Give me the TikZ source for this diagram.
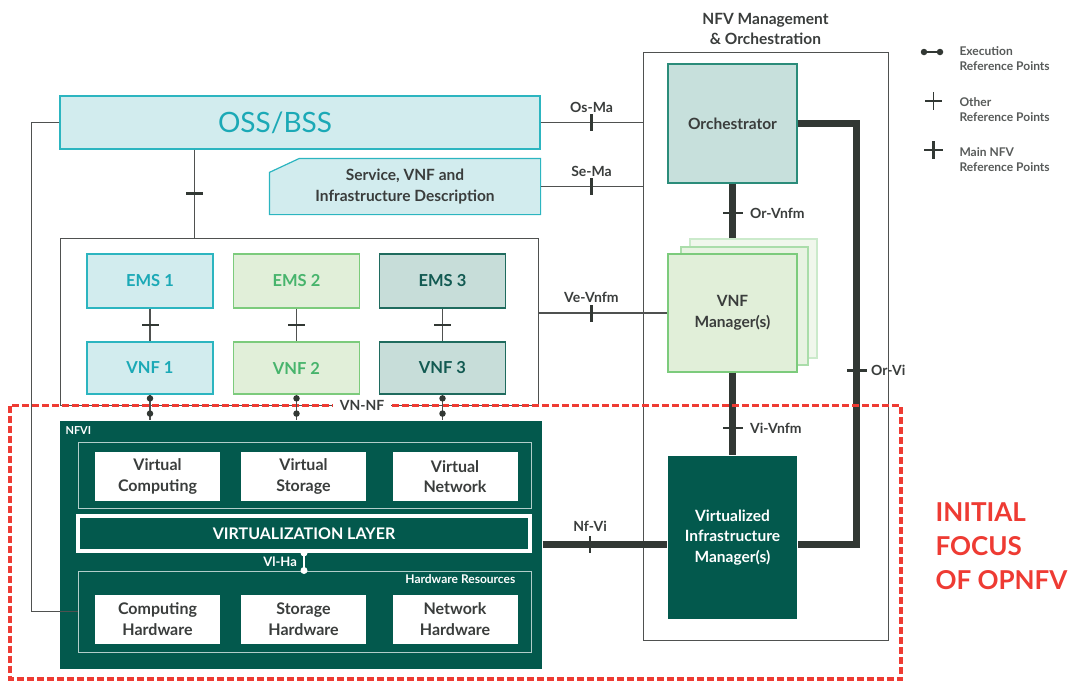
\documentclass[tikz,border=0pt]{standalone}
\usepackage{fontspec}
\setmainfont{Lato}
\usepackage{xcolor}
\usepackage{tikz}
\usetikzlibrary{positioning,calc,backgrounds}
\definecolor{ossfill}{HTML}{D2ECEE}
\definecolor{ossdraw}{HTML}{2CB5C0}
\definecolor{osstext}{HTML}{1BA9B6}
\definecolor{emsfill}{HTML}{E1EFD9}
\definecolor{emsdraw}{HTML}{7CCB7C}
\definecolor{emstext}{HTML}{47B46C}
\definecolor{tealfill}{HTML}{C7DDD9}
\definecolor{tealdraw}{HTML}{1F6B5E}
\definecolor{tealtext}{HTML}{125A52}
\definecolor{orchfill}{HTML}{C7E0DC}
\definecolor{orchdraw}{HTML}{2B8C7A}
\definecolor{nfvigreen}{HTML}{03594D}
\definecolor{darktext}{HTML}{3A3D3C}
\definecolor{linegray}{HTML}{4F5150}
\definecolor{thickgray}{HTML}{323834}
\definecolor{focusred}{HTML}{EE3B33}
\def\labelsize{\fontsize{14}{16}\selectfont}
\def\boxsize{\fontsize{16}{20.5}\selectfont}
\def\mgmtsize{\fontsize{15.5}{20.5}\selectfont}
\def\legendsize{\fontsize{12}{15}\selectfont}

\begin{document}
\begin{tikzpicture}[x=1pt,y=-1pt,font=\bfseries]
    \tikzstyle{box}=[rectangle,inner sep=0pt,align=center,line width=1.2pt]
    \tikzstyle{cyan box}=[box,fill=ossfill,draw=ossdraw,text=osstext]
    \tikzstyle{green box}=[box,fill=emsfill,draw=emsdraw,text=emstext]
    \tikzstyle{teal box}=[box,fill=tealfill,draw=tealdraw,text=tealtext]
    \tikzstyle{white box}=[box,fill=white,text=darktext,font=\boxsize\bfseries,minimum width=125,minimum height=49]
    \tikzstyle{frame}=[box,draw=linegray,line width=1pt]
    \tikzstyle{ref}=[draw=linegray,line width=1.3pt]
    \tikzstyle{main ref}=[draw=thickgray,line width=6.5pt]
    \tikzstyle{tick}=[sloped,fill=thickgray,minimum width=2.6pt,minimum height=17pt,inner sep=0pt]
    \tikzstyle{exec dot}=[circle,fill=thickgray,minimum size=6.5pt,inner sep=0pt]
    \tikzstyle{annot}=[font=\labelsize\bfseries,text=darktext]

    \useasboundingbox (0,0) rectangle (1074,681);

    % OSS/BSS and the descriptions
    \node[cyan box,minimum width=480,minimum height=53,font=\fontsize{28}{32}\selectfont] (oss) at (300,122.5) {OSS/BSS\hspace*{50pt}};
    \node[box,minimum width=270,minimum height=55,text=darktext,font=\mgmtsize\bfseries] (desc) at (405,186.5) {Service, VNF and\\Infrastructure Description};
    \begin{pgfonlayer}{background}
        \filldraw[fill=ossfill,draw=ossdraw,line width=1.2pt] ($(desc.north west)+(0,14)$) -- ($(desc.north west)+(30,0)$)
            -- (desc.north east) -- (desc.south east) -- (desc.south west) -- cycle;
    \end{pgfonlayer}

    % EMS and VNF boxes
    \node[frame,minimum width=478,minimum height=167] (group) at (299,321.5) {};
    \foreach \name/\x/\kind in {1/150/cyan,2/296.5/green,3/442.5/teal}{
        \node[\kind\space box,minimum width=126,minimum height=54,font=\fontsize{16.5}{20}\selectfont\bfseries] (ems-\name) at (\x,281) {EMS \name};
        \node[\kind\space box,minimum width=126,minimum height=52,font=\fontsize{16.5}{20}\selectfont\bfseries] (vnf-\name) at (\x,368) {VNF \name};
        \draw[ref] (ems-\name) -- (vnf-\name) node[midway,tick] {};
    }

    % NFVI
    \node[box,fill=nfvigreen,minimum width=482,minimum height=248] (nfvi) at (301,544.5) {};
    \node[anchor=west,text=white,font=\fontsize{11}{13}\selectfont\bfseries] (nfvi-label) at (62,431) {NFVI};
    \node[box,draw=white!70!nfvigreen,line width=1pt,minimum width=453,minimum height=66] (virt) at (304.5,475) {};
    \node[white box] (vcomp) at (157.5,476.5) {Virtual\\Computing};
    \node[white box] (vstor) at (303.5,476.5) {Virtual\\Storage};
    \node[white box] (vnet) at (455,476.5) {Virtual\\Network};
    \node[box,draw=white,line width=4pt,minimum width=452,minimum height=35,text=white,font=\fontsize{16}{20}\selectfont\bfseries] (vlayer) at (304,533.5) {VIRTUALIZATION LAYER};
    \node[box,draw=white!70!nfvigreen,line width=1pt,minimum width=453,minimum height=81] (hwres) at (304.5,611.5) {};
    \node[anchor=north east,text=white,font=\fontsize{12}{14}\selectfont\bfseries,inner sep=2pt] (hwres-label) at ($(hwres.north east)+(-14,2)$) {Hardware Resources};
    \node[white box] (hcomp) at (157.5,619) {Computing\\Hardware};
    \node[white box] (hstor) at (303.5,619) {Storage\\Hardware};
    \node[white box] (hnet) at (455,619) {Network\\Hardware};
    \draw[white,line width=1.6pt] (vlayer.south) -- (vlayer.south |- hwres.north)
        node[pos=0,circle,fill=white,minimum size=7pt,inner sep=0pt] {}
        node[pos=1,circle,fill=white,minimum size=7pt,inner sep=0pt] {}
        node[midway,left=3pt,text=white,font=\fontsize{13}{15}\selectfont\bfseries] {Vl-Ha};

    % NFV Management & Orchestration
    \node[frame,minimum width=245,minimum height=588] (mano) at (765.5,346) {};
    \node[annot,above=3pt of mano.north,align=center,font=\mgmtsize\bfseries] (mano-title) {NFV Management\\\& Orchestration};
    \node[box,fill=orchfill,draw=orchdraw,text=darktext,minimum width=129,minimum height=119,font=\mgmtsize\bfseries] (orch) at (732.5,123.5) {Orchestrator};
    \node[box,fill=emsfill!50,draw=emsdraw!40,minimum width=127,minimum height=119] (vnfm-c) at (753.5,298.5) {};
    \node[box,fill=emsfill!75,draw=emsdraw!65,minimum width=127,minimum height=118] (vnfm-b) at (744.5,306) {};
    \node[box,fill=emsfill,draw=emsdraw,text=darktext,minimum width=129,minimum height=118,font=\mgmtsize\bfseries] (vnfm) at (732.5,313) {VNF\\Manager(s)};
    \node[box,fill=nfvigreen,text=white,minimum width=129,minimum height=163,font=\mgmtsize\bfseries] (vim) at (732.5,537.5) {Virtualized\\Infrastructure\\Manager(s)};

    % Reference points
    \coordinate (oss-tap) at ($(oss.south west)+(135,0)$);
    \draw[ref] (oss-tap) -- (oss-tap |- group.north) node[midway,tick] {};
    \draw[ref] (oss.west) -- ++(-28,0) |- (hwres.west);
    \draw[ref] (oss.east) -- (oss.east -| mano.west)
        node[midway,tick] {} node[midway,annot,above=6pt] {Os-Ma};
    \draw[ref] (desc.east) -- (desc.east -| mano.west)
        node[midway,tick] {} node[midway,annot,above=6pt] {Se-Ma};
    \draw[ref] (vnfm.west -| group.east) -- (vnfm.west)
        node[pos=0.41,tick] {} node[pos=0.41,annot,above=6pt] {Ve-Vnfm};
    \draw[main ref] (orch.south) -- (orch.south |- vnfm-c.north)
        node[pos=0.54,tick,minimum height=20pt] {} node[pos=0.54,annot,right=11pt] {Or-Vnfm};
    \draw[main ref] (vnfm.south) -- (vim.north)
        node[pos=0.67,tick,minimum height=20pt] {} node[pos=0.67,annot,right=11pt] {Vi-Vnfm};
    \draw[main ref] (nfvi.east) -- (nfvi.east -| vim.west)
        node[pos=0.38,tick] {} node[pos=0.38,annot,above=6pt] {Nf-Vi};
    \coordinate (orvi-top) at ($(orch.east)+(59,0)$);
    \draw[main ref] (orch.east) -- (orvi-top) |- (vim.east |- nfvi.east);
    \path (orvi-top) -- (orvi-top |- nfvi.east)
        node[pos=0.587,tick,minimum height=20pt] {} node[pos=0.587,annot,right=11pt] {Or-Vi};

    % Initial focus of OPNFV
    \draw[focusred,line width=3.5pt,dash pattern=on 7pt off 3pt] (10,405.5) rectangle (901,679);
    \node[fill=white,annot,inner xsep=7pt,inner ysep=2pt] (vnnf) at (362,405.5) {VN-NF};
    \foreach \name in {1,2,3}
        \draw[ref,line width=1.8pt] (vnf-\name.south) -- (vnf-\name.south |- nfvi.north)
            node[pos=0.15,exec dot] {} node[pos=0.75,exec dot] {};
    \node[anchor=west,align=left,text=focusred,font=\fontsize{26}{34}\selectfont\bfseries] (focus) at (932,546) {INITIAL\\FOCUS\\OF OPNFV};

    % Legend
    \node[exec dot] (lg-a) at (924,52) {};
    \node[exec dot] (lg-b) at (940,52) {};
    \draw[thickgray,line width=2pt] (lg-a) -- (lg-b);
    \node[anchor=west,align=left,text=darktext!85,font=\legendsize\bfseries] (lg-exec) at (956,59) {Execution\\Reference Points};
    \draw[thickgray,line width=1.5pt] (925,101) -- (942,101) (933.5,92) -- (933.5,110);
    \node[anchor=west,align=left,text=darktext!85,font=\legendsize\bfseries] (lg-other) at (956,109.5) {Other\\Reference Points};
    \draw[thickgray,line width=2.8pt] (924,150) -- (943,150) (933.5,141) -- (933.5,159);
    \node[anchor=west,align=left,text=darktext!85,font=\legendsize\bfseries] (lg-main) at (956,159.5) {Main NFV\\Reference Points};
\end{tikzpicture}
\end{document}
